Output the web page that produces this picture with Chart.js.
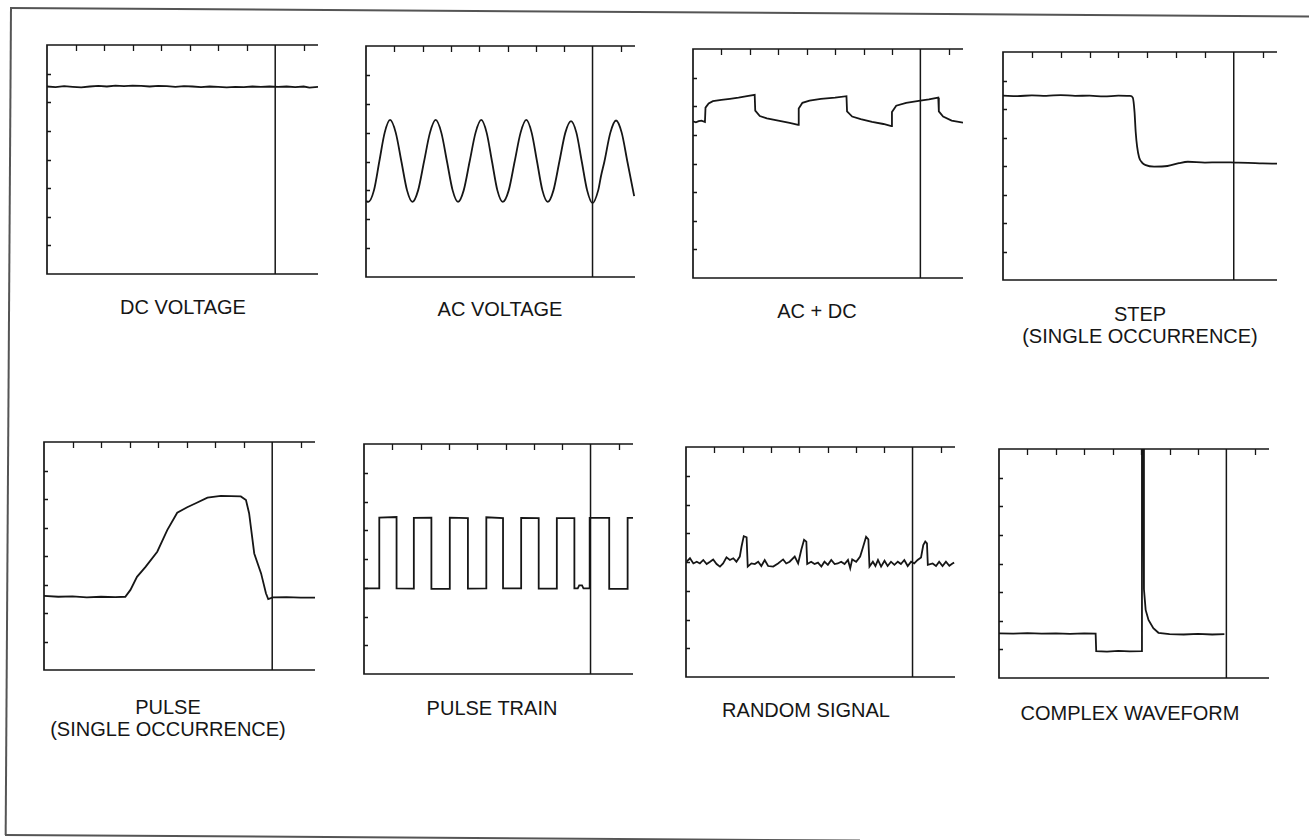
<!DOCTYPE html>
<html>
<head>
<meta charset="utf-8">
<script src="https://cdn.jsdelivr.net/npm/chart.js@4/dist/chart.umd.min.js"></script>
<style>
    html, body { margin: 0; padding: 0; background: #fff; }
    body { width: 1309px; height: 840px; position: relative; overflow: hidden; font-family: "Liberation Sans", Arial, sans-serif; }
    canvas { position: absolute; }
    .label { position: absolute; width: 400px; text-align: center; font-size: 20px; line-height: 22px; color: #161616; }
    .edge { position: absolute; background: #555; transform-origin: 0 0; transform: rotate(0.37deg); }
</style>
</head>
<body>

<div class="edge" style="left:10px; top:7px; width:1310px; height:1.5px;"></div>
<div class="edge" style="left:10px; top:7px; width:1.5px; height:828px;"></div>
<div class="edge" style="left:5px; top:834px; width:855px; height:1.5px;"></div>

<script>
"use strict";

// screen units: 1 tick = 1 division
const xTicks = [1, 2, 3, 4, 5, 6, 7, 9];
const yTicks = [1, 2, 3, 4, 5, 6, 7];
const cursorX = 8;

const titles = [
    ['DC VOLTAGE'], ['AC VOLTAGE'], ['AC + DC'], ['STEP', '(SINGLE OCCURRENCE)'],
    ['PULSE', '(SINGLE OCCURRENCE)'], ['PULSE TRAIN'], ['RANDOM SIGNAL'], ['COMPLEX WAVEFORM']
];

const dcVoltage = [[0,6.55],[0.3,6.53],[0.6,6.56],[0.9,6.54],[1.2,6.52],[1.5,6.55],[1.8,6.57],[2.1,6.55],[2.4,6.58],
    [2.7,6.56],[3.0,6.58],[3.3,6.57],[3.6,6.55],[3.9,6.57],[4.2,6.56],[4.5,6.54],[4.8,6.56],[5.1,6.55],[5.4,6.53],
    [5.7,6.55],[6.0,6.54],[6.3,6.52],[6.6,6.54],[6.9,6.53],[7.2,6.55],[7.5,6.54],[7.8,6.55],[8.1,6.54],[8.4,6.55],
    [8.7,6.53],[9.0,6.55],[9.2,6.51],[9.5,6.54]];

const acVoltage = [[0,2.63],[0.08,2.6],[0.28,3.0],[0.47,4.0],[0.66,5.0],[0.85,5.44],[1.05,5.0],[1.25,4.0],[1.45,3.0],
    [1.64,2.6],[1.84,3.0],[2.05,4.0],[2.26,5.0],[2.46,5.44],[2.66,5.0],[2.86,4.0],[3.06,3.0],[3.25,2.6],
    [3.45,3.0],[3.66,4.0],[3.87,5.0],[4.07,5.44],[4.26,5.0],[4.45,4.0],[4.64,3.0],[4.83,2.6],
    [5.04,3.0],[5.25,4.0],[5.46,5.0],[5.66,5.44],[5.85,5.0],[6.04,4.0],[6.23,3.0],[6.42,2.6],
    [6.62,3.0],[6.83,4.0],[7.04,5.0],[7.24,5.4],[7.43,5.0],[7.62,4.0],[7.81,3.0],[8.0,2.56],
    [8.2,3.0],[8.3,3.5],[8.42,4.0],[8.63,5.0],[8.83,5.42],[9.03,5.0],[9.23,4.0],[9.47,2.8]];

const acPlusDc = [[0,5.47],[0.1,5.44],[0.2,5.48],[0.3,5.5],[0.42,5.45],[0.44,5.95],[0.55,6.1],[0.7,6.18],[1.0,6.22],
    [1.3,6.26],[1.6,6.3],[1.9,6.35],[2.17,6.4],[2.19,5.85],[2.35,5.66],[2.6,5.58],[3.0,5.5],[3.4,5.42],[3.7,5.35],
    [3.72,5.92],[3.85,6.12],[4.1,6.2],[4.5,6.26],[5.0,6.3],[5.4,6.35],[5.42,5.82],[5.6,5.64],[5.9,5.55],
    [6.3,5.45],[6.7,5.38],[6.98,5.31],[7.0,5.8],[7.15,6.02],[7.5,6.12],[8.0,6.2],[8.3,6.24],[8.63,6.3],
    [8.65,5.82],[8.8,5.64],[9.1,5.5],[9.5,5.43]];

const step = [[0,6.47],[0.5,6.45],[1.0,6.48],[1.5,6.46],[2.0,6.49],[2.5,6.46],[3.0,6.47],[3.5,6.44],[4.0,6.47],
    [4.4,6.46],[4.5,6.4],[4.56,5.9],[4.6,5.2],[4.65,4.68],[4.72,4.3],[4.82,4.12],[4.95,4.03],[5.24,3.98],
    [5.7,4.0],[6.1,4.1],[6.41,4.15],[7.0,4.12],[7.5,4.13],[8.05,4.12],[8.5,4.11],[9.0,4.09],[9.5,4.08]];

const pulse = [[0,2.6],[0.5,2.57],[1.0,2.58],[1.5,2.55],[2.0,2.57],[2.5,2.56],[2.85,2.57],[3.03,2.81],[3.26,3.27],
    [3.56,3.62],[3.97,4.15],[4.32,4.91],[4.67,5.52],[5.02,5.71],[5.32,5.85],[5.73,6.05],[6.2,6.11],[6.9,6.09],
    [7.08,5.96],[7.19,5.5],[7.37,4.09],[7.61,3.39],[7.78,2.69],[7.86,2.49],[8.02,2.55],[8.5,2.56],[9.0,2.54],[9.5,2.54]];

const pulseTrain = [[0,2.98],[0.54,2.98],[0.54,5.44],[1.15,5.46],[1.15,2.98],[1.76,2.97],[1.76,5.43],[2.38,5.44],
    [2.38,2.96],[3.03,2.96],[3.03,5.44],[3.67,5.42],[3.67,2.97],[4.32,2.98],[4.32,5.45],[4.91,5.42],[4.91,2.98],
    [5.55,2.98],[5.55,5.43],[6.17,5.42],[6.17,2.97],[6.81,2.97],[6.81,5.42],[7.43,5.42],[7.43,2.98],[7.55,2.98],
    [7.6,3.08],[7.7,3.08],[7.75,2.98],[7.97,2.98],[7.97,5.43],[8.66,5.43],[8.66,2.96],[9.31,2.96],[9.31,5.43],[9.5,5.43]];

const randomSignal = [[0.02,4.01],[0.14,4.13],[0.26,3.95],[0.38,4.01],[0.49,3.95],[0.61,4.07],[0.73,3.93],[0.85,4.01],
    [0.96,4.09],[1.08,3.93],[1.2,3.84],[1.31,3.95],[1.43,4.16],[1.55,4.07],[1.67,4.13],[1.78,4.01],[1.9,4.19],
    [1.96,4.53],[2.04,4.9],[2.14,4.86],[2.18,3.84],[2.31,3.95],[2.43,3.93],[2.55,4.01],[2.66,3.86],[2.78,4.07],
    [2.9,3.86],[3.08,3.84],[3.25,3.95],[3.43,4.09],[3.54,3.95],[3.66,4.01],[3.84,4.19],[3.96,3.95],[4.07,4.42],
    [4.17,4.77],[4.25,4.71],[4.28,3.93],[4.42,4.01],[4.54,3.93],[4.66,3.98],[4.78,3.84],[4.89,4.01],[5.01,3.9],
    [5.13,4.07],[5.25,3.93],[5.36,3.95],[5.48,4.01],[5.6,3.93],[5.72,4.07],[5.8,3.78],[5.87,4.09],[6.01,4.01],
    [6.15,4.19],[6.24,4.48],[6.36,4.88],[6.44,4.79],[6.48,3.84],[6.6,4.01],[6.69,3.86],[6.78,4.07],[6.89,3.84],
    [7.01,4.04],[7.12,3.86],[7.24,4.01],[7.36,3.9],[7.48,4.01],[7.59,3.93],[7.71,4.07],[7.83,3.86],[7.95,4.01],
    [8.06,3.95],[8.18,4.07],[8.3,4.16],[8.38,4.59],[8.45,4.71],[8.51,4.65],[8.54,3.9],[8.71,3.95],[8.83,3.86],
    [8.94,4.01],[9.06,3.86],[9.18,4.01],[9.3,3.87],[9.41,3.95],[9.47,3.98]];

const complexWave = [[0,1.56],[0.5,1.55],[1.0,1.57],[1.5,1.55],[2.0,1.56],[2.5,1.54],[3.0,1.56],[3.4,1.55],[3.42,0.94],
    [3.8,0.92],[4.2,0.95],[4.6,0.93],[5.0,0.94],[5.03,8],[5.08,8],[5.1,3.1],[5.16,2.38],[5.26,2.03],[5.43,1.74],
    [5.61,1.58],[6.0,1.53],[6.5,1.52],[7.0,1.54],[7.5,1.52],[7.93,1.53]];

const series = [dcVoltage, acVoltage, acPlusDc, step, pulse, pulseTrain, randomSignal, complexWave];
const smooth = [false, true, false, true, false, false, false, false];

// plot boxes [left, top, width, height], label centre and top
const boxes = [
    [47, 45, 271, 229, 183, 296], [366, 46, 269, 231, 500, 298], [693, 49, 270, 229, 817, 300], [1003, 52, 274, 228, 1140, 303],
    [44, 442, 271, 228, 168, 696], [364, 444, 269, 230, 492, 697], [686, 447, 269, 230, 806, 699], [999, 449, 270, 229, 1130, 702]
];

const ink = '#161616';
const pad = 4;

// frame + inward ticks, placed through the chart scales
const scopeFrame = {
    id: 'scopeFrame',
    afterDatasetsDraw(chart) {
        const { ctx, chartArea: a, scales: { x, y } } = chart;
        ctx.save();
        ctx.strokeStyle = ink;
        ctx.lineWidth = 1.7;
        ctx.beginPath();
        ctx.moveTo(a.right, a.top); ctx.lineTo(a.left, a.top);
        ctx.lineTo(a.left, a.bottom); ctx.lineTo(a.right, a.bottom);
        ctx.stroke();
        ctx.lineWidth = 1.3;
        ctx.beginPath();
        xTicks.forEach(t => {
            const px = Math.round(x.getPixelForValue(t)) + 0.5;
            ctx.moveTo(px, a.top); ctx.lineTo(px, a.top + 6);
        });
        yTicks.forEach(t => {
            const py = Math.round(y.getPixelForValue(t)) + 0.5;
            ctx.moveTo(a.left, py); ctx.lineTo(a.left + 4, py);
        });
        ctx.stroke();
        ctx.restore();
    }
};

series.forEach((pts, i) => {
    const [left, top, w, h, cx, ty] = boxes[i];
    const canvas = document.createElement('canvas');
    canvas.width = w + pad * 2;
    canvas.height = h + pad * 2;
    canvas.style.left = (left - pad) + 'px';
    canvas.style.top = (top - pad) + 'px';
    document.body.appendChild(canvas);

    new Chart(canvas.getContext('2d'), {
        type: 'line',
        data: {
            datasets: [
                {
                    data: pts.map(p => ({ x: p[0], y: p[1] })),
                    borderColor: ink,
                    borderWidth: 1.8,
                    pointRadius: 0,
                    fill: false,
                    cubicInterpolationMode: smooth[i] ? 'monotone' : 'default',
                    tension: 0
                },
                {
                    data: [{ x: cursorX, y: 0 }, { x: cursorX, y: 8 }],
                    borderColor: ink,
                    borderWidth: 1.5,
                    pointRadius: 0,
                    fill: false
                }
            ]
        },
        options: {
            responsive: false,
            animation: false,
            events: [],
            layout: { padding: pad },
            plugins: { legend: { display: false }, tooltip: { enabled: false } },
            scales: {
                x: { type: 'linear', min: 0, max: 9.5, display: false },
                y: { type: 'linear', min: 0, max: 8, display: false }
            }
        },
        plugins: [scopeFrame]
    });

    const label = document.createElement('div');
    label.className = 'label';
    label.style.left = (cx - 200) + 'px';
    label.style.top = ty + 'px';
    label.innerHTML = titles[i].join('<br>');
    document.body.appendChild(label);
});
</script>
</body>
</html>
